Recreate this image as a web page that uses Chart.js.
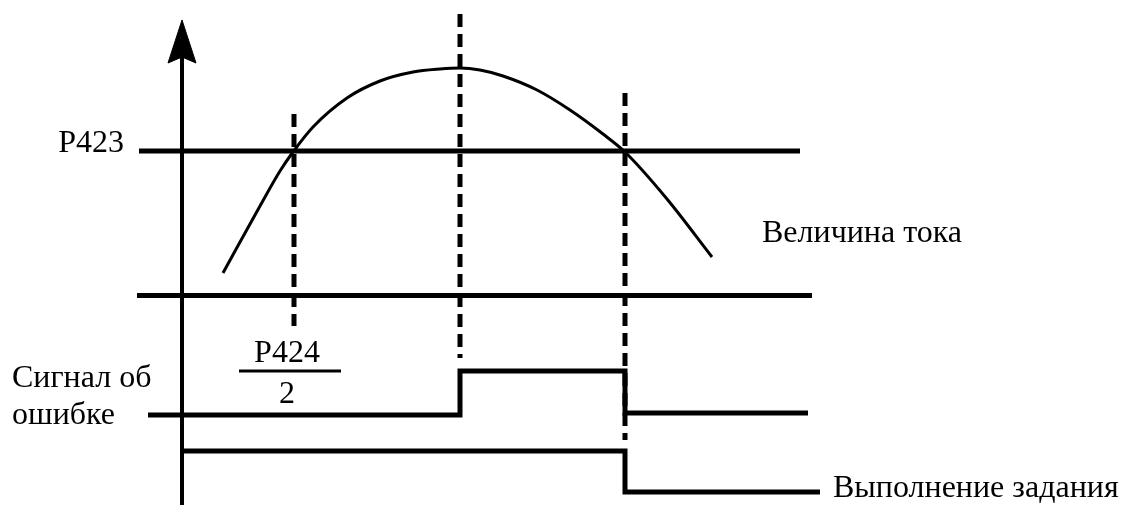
<!DOCTYPE html>
<html lang="ru">
  <head>
    <meta charset="UTF-8" />
    <title>Сигнал об ошибке</title>
    <script src="https://cdn.jsdelivr.net/npm/chart.js"></script>
    <style>
      html,
      body {
        margin: 0;
        background: #fff;
      }
      #wrap {
        width: 1124px;
        height: 509px;
      }
    </style>
  </head>
  <body>
    <div id="wrap"><canvas id="chart" width="1124" height="509"></canvas></div>
  </body>
  <script>
    // diagram units: x to the right, y downwards
    const axisLine = [{ x: 182, y: 505 }, { x: 182, y: 40 }];
    const arrowHead = [
      { x: 182, y: 20 },
      { x: 168, y: 63 },
      { x: 182, y: 57 },
      { x: 196, y: 63 },
      { x: 182, y: 20 },
    ];
    const thresholdLine = [{ x: 139, y: 151 }, { x: 800, y: 151 }];
    const zeroLine = [{ x: 137, y: 295.5 }, { x: 812, y: 295.5 }];
    const currentCurve = [
      { x: 223, y: 273 },
      { x: 260, y: 206 },
      { x: 280, y: 171 },
      { x: 293, y: 152 },
      { x: 313, y: 127 },
      { x: 347, y: 98 },
      { x: 380, y: 81 },
      { x: 413, y: 72 },
      { x: 440, y: 69 },
      { x: 460, y: 68 },
      { x: 480, y: 70 },
      { x: 503, y: 76 },
      { x: 537, y: 90 },
      { x: 570, y: 110 },
      { x: 603, y: 134 },
      { x: 625, y: 152 },
      { x: 667, y: 199 },
      { x: 712, y: 257 },
    ];
    const errorSignal = [
      { x: 148, y: 415 },
      { x: 460, y: 415 },
      { x: 460, y: 371 },
      { x: 625, y: 371 },
      { x: 625, y: 413 },
      { x: 808, y: 413 },
    ];
    const taskDone = [
      { x: 182, y: 451 },
      { x: 625, y: 451 },
      { x: 625, y: 492 },
      { x: 820, y: 492 },
    ];
    const dashP424 = [{ x: 294, y: 114 }, { x: 294, y: 326 }];
    const dashPeak = [{ x: 460, y: 14 }, { x: 460, y: 358 }];
    const dashOff = [{ x: 625, y: 93 }, { x: 625, y: 440 }];
    const fractionBar = [{ x: 239, y: 371 }, { x: 341, y: 371 }];

    const labelTexts = ["P423", "Величина тока", "P424", "2", "Сигнал об", "ошибке", "Выполнение задания"];
    const labelAnchors = [
      { x: 124, y: 152, align: "right" },
      { x: 762, y: 242, align: "left" },
      { x: 287, y: 362, align: "center" },
      { x: 287, y: 403, align: "center" },
      { x: 12, y: 387, align: "left" },
      { x: 12, y: 424, align: "left" },
      { x: 833, y: 497, align: "left" },
    ];

    const line = (data, width, dash) => ({
      data: data,
      showLine: true,
      borderColor: "#000",
      borderWidth: width,
      borderDash: dash || [],
      borderCapStyle: "butt",
      borderJoinStyle: "miter",
      pointRadius: 0,
      tension: 0,
      fill: false,
    });

    const curveSet = line(currentCurve, 3);
    curveSet.cubicInterpolationMode = "monotone";

    const arrowSet = line(arrowHead, 1);
    arrowSet.fill = "shape";
    arrowSet.backgroundColor = "#000";

    const labelsPlugin = {
      id: "labels",
      afterDatasetsDraw(chart) {
        const ctx = chart.ctx;
        const sx = chart.scales.x;
        const sy = chart.scales.y;
        ctx.save();
        ctx.fillStyle = "#000";
        ctx.font = '32px "Liberation Serif", "Times New Roman", serif';
        ctx.textBaseline = "alphabetic";
        labelTexts.forEach((text, i) => {
          const a = labelAnchors[i];
          ctx.textAlign = a.align;
          ctx.fillText(text, sx.getPixelForValue(a.x), sy.getPixelForValue(a.y));
        });
        ctx.restore();
      },
    };

    new Chart(document.getElementById("chart"), {
      type: "scatter",
      data: {
        datasets: [
          line(axisLine, 4),
          arrowSet,
          line(thresholdLine, 5),
          line(zeroLine, 5),
          curveSet,
          line(errorSignal, 5),
          line(taskDone, 5),
          line(dashP424, 5, [13, 7]),
          line(dashPeak, 5, [13, 7]),
          line(dashOff, 5, [13, 7]),
          line(fractionBar, 3),
        ],
      },
      options: {
        responsive: false,
        animation: false,
        layout: { padding: 0 },
        plugins: { legend: { display: false }, tooltip: { enabled: false } },
        scales: {
          x: { type: "linear", min: 0, max: 1124, display: false },
          y: { type: "linear", min: 0, max: 509, reverse: true, display: false },
        },
      },
      plugins: [labelsPlugin],
    });
  </script>
</html>
